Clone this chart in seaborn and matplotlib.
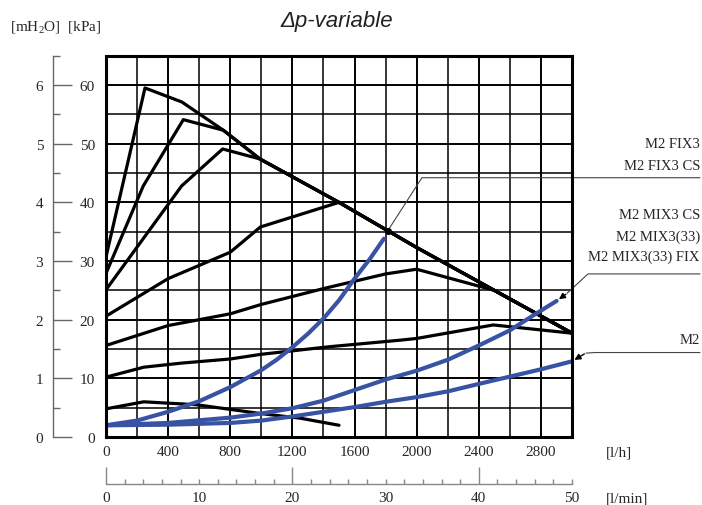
import matplotlib
matplotlib.use("Agg")
import matplotlib.pyplot as plt
import seaborn as sns
from matplotlib.ticker import MultipleLocator

# Flow [l/h] and pressure [kPa]
# Common descending envelope shared by the black curves
env_q = [991, 1500, 2000, 2500, 3000]
env_p = [47.4, 40.0, 32.3, 25.0, 17.7]

a_q = [0, 251, 489, 755] + env_q
a_p = [30.7, 59.5, 57.1, 52.3] + env_p
b_q = [0, 240, 498, 755] + env_q
b_p = [27.9, 42.8, 54.1, 52.3] + env_p
c_q = [0, 487, 751] + env_q
c_p = [25.1, 42.8, 49.1] + env_p
d_q = [0, 400, 800, 994, 1500] + env_q[2:]
d_p = [20.6, 27.0, 31.5, 35.8, 40.0] + env_p[2:]
e_q = [0, 200, 400, 800, 1000, 1400, 1800, 2000] + env_q[3:]
e_p = [15.6, 17.3, 19.0, 21.0, 22.6, 25.3, 27.8, 28.6] + env_p[3:]
f_q = [0, 243, 487, 800, 1000, 1442, 1892, 2000, 2493, 3000]
f_p = [10.2, 11.9, 12.6, 13.3, 14.1, 15.4, 16.5, 16.8, 19.1, 17.7]
g_q = [0, 243, 583, 994, 1252, 1500]
g_p = [4.8, 6.0, 5.5, 4.0, 3.2, 2.0]

# Blue resistance curves
fix3_q = [0, 200, 400, 600, 800, 1000, 1100, 1200, 1300, 1400, 1500, 1600, 1700, 1789]
fix3_p = [2.0, 2.8, 4.3, 6.1, 8.5, 11.4, 13.2, 15.3, 17.6, 20.2, 23.3, 27.0, 30.4, 33.8]
mix_q = [0, 400, 800, 1000, 1200, 1400, 1600, 1800, 2000, 2204, 2408, 2601, 2749, 2901]
mix_p = [2.0, 2.4, 3.3, 4.0, 4.9, 6.2, 8.0, 9.8, 11.3, 13.2, 15.7, 18.2, 20.7, 23.2]
m2_q = [0, 400, 800, 1000, 1200, 1400, 1600, 1800, 2000, 2204, 2408, 2601, 2794, 3000]
m2_p = [2.0, 2.1, 2.4, 2.8, 3.5, 4.3, 5.1, 6.0, 6.8, 7.8, 9.1, 10.3, 11.5, 12.9]

black_curves = [(a_q, a_p), (b_q, b_p), (c_q, c_p), (d_q, d_p),
                (e_q, e_p), (f_q, f_p), (g_q, g_p)]
blue_curves = [(fix3_q, fix3_p), (mix_q, mix_p), (m2_q, m2_p)]

lh_ticks = [0, 400, 800, 1200, 1600, 2000, 2400, 2800]
lmin_ticks = [0, 10, 20, 30, 40, 50]
kpa_ticks = [0, 10, 20, 30, 40, 50, 60]
mh2o_ticks = [0, 1, 2, 3, 4, 5, 6]

fix3_labels = ["M2 FIX3", "M2 FIX3 CS"]
mix_labels = ["M2 MIX3 CS", "M2 MIX3(33)", "M2 MIX3(33) FIX"]
m2_labels = ["M2"]

sns.set_style("white")
plt.rcParams["font.family"] = ["Liberation Serif", "DejaVu Serif"]
plt.rcParams["mathtext.fontset"] = "custom"
plt.rcParams["mathtext.rm"] = "Liberation Serif"
plt.rcParams["mathtext.it"] = "Liberation Serif:italic"

W, H = 702, 506
fig = plt.figure(figsize=(W / 100, H / 100), dpi=100)

x0, x1 = 106, 572
y0, y1 = 438, 56.7
left, width = x0 / W, (x1 - x0) / W
bottom, height = 1 - y0 / H, (y0 - y1) / H

ax = fig.add_axes([left, bottom, width, height])
ax.set_xlim(0, 3000)
ax.set_ylim(0, 65)
ax.set_xticks(lh_ticks)
ax.set_yticks(kpa_ticks)
ax.xaxis.set_minor_locator(MultipleLocator(200))
ax.yaxis.set_minor_locator(MultipleLocator(5))
ax.grid(which="major", color="black", lw=1.4)
ax.grid(which="minor", color="black", lw=1.1)
ax.set_axisbelow(True)
ax.tick_params(which="both", length=0, labelsize=11)
ax.tick_params(axis="x", pad=6)
ax.tick_params(axis="y", pad=8)
for s in ax.spines.values():
    s.set_color("black")
    s.set_linewidth(2.2)

for q, p in black_curves:
    sns.lineplot(x=q, y=p, ax=ax, color="black", lw=2.3, sort=False, estimator=None)
for q, p in blue_curves:
    sns.lineplot(x=q, y=p, ax=ax, color="#3953a4", lw=3.0, sort=False, estimator=None)

# leader lines to labels
xr = (700 - x0) / (x1 - x0) * 3000
lead = dict(color="#444444", lw=0.8, clip_on=False)
ax.plot([1815, 2034, xr], [35.2, 44.2, 44.2], **lead)
ax.plot([1815], [35.2], "o", color="black", ms=4, clip_on=False)
ax.plot([2968, 3103, xr], [24.5, 27.8, 27.8], **lead)
ax.annotate("", xy=(mix_q[-1], mix_p[-1]), xytext=(2975, 24.6),
            arrowprops=dict(arrowstyle="-|>", color="black", lw=1, mutation_scale=9),
            annotation_clip=False)
ax.plot([3090, 3150, xr], [14.3, 14.4, 14.4], **lead)
ax.annotate("", xy=(m2_q[-1], m2_p[-1]), xytext=(3095, 14.4),
            arrowprops=dict(arrowstyle="-|>", color="black", lw=1, mutation_scale=9),
            annotation_clip=False)

for txt, yy in zip(fix3_labels, [145, 166]):
    fig.text(700 / W, 1 - yy / H, txt, ha="right", va="center", fontsize=10.5)
for txt, yy in zip(mix_labels, [216, 237, 257]):
    fig.text(700 / W, 1 - yy / H, txt, ha="right", va="center", fontsize=10.5)
for txt, yy in zip(m2_labels, [341]):
    fig.text(700 / W, 1 - yy / H, txt, ha="right", va="center", fontsize=10.5)

# mH2O scale on the left
axm = fig.add_axes([53 / W, bottom, 0.001, height])
axm.patch.set_visible(False)
axm.set_ylim(0, 6.5)
axm.set_xticks([])
axm.set_yticks(mh2o_ticks)
axm.yaxis.set_minor_locator(MultipleLocator(0.5))
for s in ["top", "right", "bottom"]:
    axm.spines[s].set_visible(False)
axm.spines["left"].set_color("#666666")
axm.spines["left"].set_linewidth(1.0)
axm.tick_params(axis="y", which="both", left=True, right=False)
axm.tick_params(axis="y", which="major", direction="in", length=13.5, width=1,
                color="#666666", pad=7, labelsize=11)
axm.tick_params(axis="y", which="minor", direction="in", length=5, width=1,
                color="#666666")

# l/min scale at the bottom
axl = fig.add_axes([left, 1 - 485 / H, width, 0.001])
axl.patch.set_visible(False)
axl.set_xlim(0, 50)
axl.set_yticks([])
axl.set_xticks(lmin_ticks)
axl.xaxis.set_minor_locator(MultipleLocator(2))
for s in ["top", "right", "left"]:
    axl.spines[s].set_visible(False)
axl.spines["bottom"].set_color("#888888")
axl.spines["bottom"].set_linewidth(1.0)
axl.tick_params(axis="x", which="both", bottom=True, top=False)
axl.tick_params(axis="x", which="major", direction="in", length=12, width=1,
                color="#888888", pad=5, labelsize=11)
axl.tick_params(axis="x", which="minor", direction="in", length=3.5, width=1,
                color="#888888")
for t, v in zip(axl.xaxis.get_major_ticks(), lmin_ticks):
    if v % 20 != 0:
        t.tick1line.set_markersize(3.5)

fig.text(606 / W, 1 - 453 / H, "[l/h]", ha="left", va="center", fontsize=11)
fig.text(606 / W, 1 - 499 / H, "[l/min]", ha="left", va="center", fontsize=11)
fig.text(10 / W, 1 - 27 / H, "[mH$_2$O]  [kPa]", ha="left", va="center", fontsize=11)
fig.text(337 / W, 1 - 22 / H, "Δp-variable", ha="center", va="center",
         family="Liberation Sans", style="italic", fontsize=16, color="#222222")

fig.savefig("out.png", dpi=100)
